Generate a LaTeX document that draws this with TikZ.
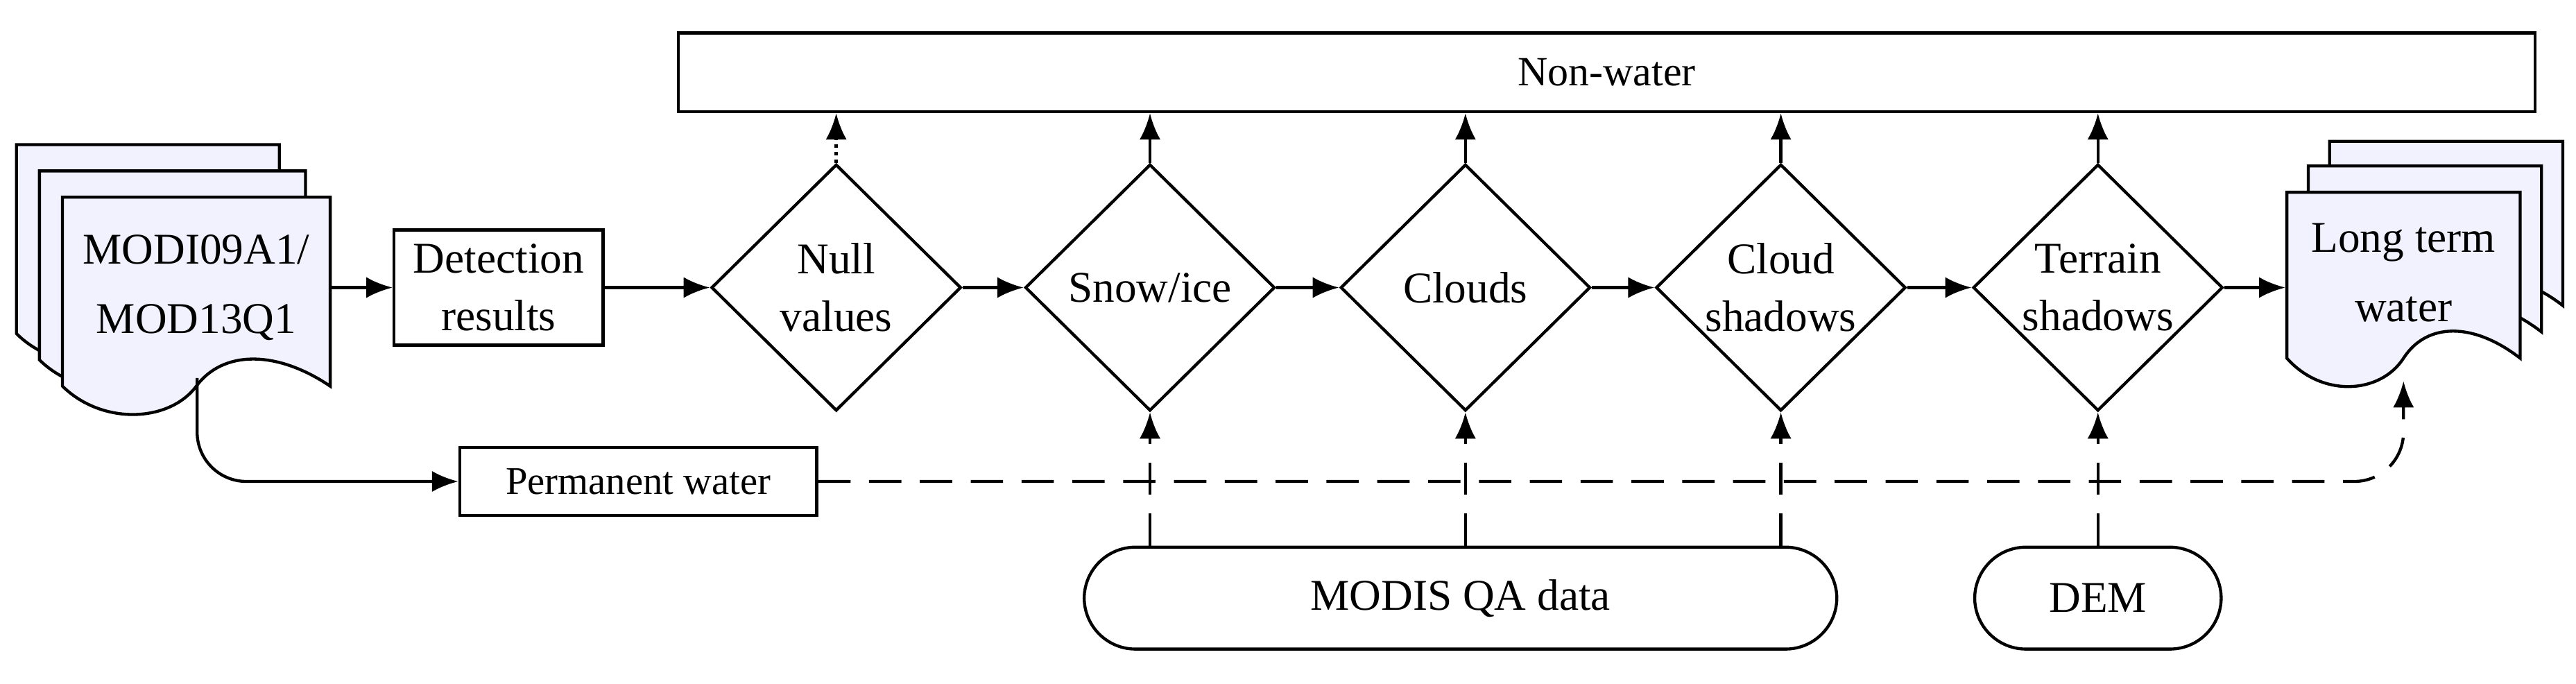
\documentclass[tikz,border=0pt]{standalone}
\usepackage{fontspec}
\setmainfont{Liberation Serif}
\usetikzlibrary{shapes.geometric,arrows.meta}
\begin{document}
\begin{tikzpicture}[x=0.025cm,y=-0.025cm,line width=1.3pt,
  txt/.style={font=\fontsize{19}{25}\selectfont,align=center},
  box/.style={draw,rectangle,inner sep=0pt,txt},
  dia/.style={draw,diamond,aspect=1,inner sep=0pt,minimum width=3.8cm,minimum height=3.75cm,txt},
  term/.style={draw,rectangle,rounded corners=0.78cm,inner sep=0pt,minimum height=1.55cm,txt},
  arr/.style={-{Latex[length=4mm,width=3.2mm]}},
  dsh/.style={dash pattern=on 14pt off 8pt},
  docfill/.style={draw,fill=blue!5,line join=miter}]
\useasboundingbox (0,0) rectangle (1568,416);
% document sheet macro: #1=x1, #2=y1, #3=w, #4=yb
\def\docsheet#1#2#3#4{%
  \draw[docfill] (#1,#2) -- ({#1+#3},#2) -- ({#1+#3},#4)
   .. controls ({#1+0.8*#3},{#4-22}) and ({#1+0.6*#3},{#4-22}) .. ({#1+0.5*#3},{#4})
   .. controls ({#1+0.4*#3},{#4+22}) and ({#1+0.15*#3},{#4+24}) .. (#1,#4) -- cycle;}
% MODI stack
\docsheet{10}{88}{160}{203}
\docsheet{24}{104}{162}{219}
\docsheet{38}{120}{163}{235}
\node[txt,font=\fontsize{19}{30}\selectfont,minimum width=4.07cm,minimum height=2.85cm,inner sep=0pt] (modi) at (119.5,175) {MODI09A1/\\MOD13Q1};
% Long term water stack
\docsheet{1418}{86}{142}{186}
\docsheet{1405}{101}{142}{202}
\docsheet{1392}{117}{142}{218}
\node[txt,font=\fontsize{19}{30}\selectfont,minimum width=3.55cm,minimum height=2.5cm,inner sep=0pt] (ltw) at (1463,166) {Long term\\water};
\coordinate (ltwin) at (1463,232);
% boxes
\node[box,font=\fontsize{18}{25}\selectfont,minimum width=28.25cm,minimum height=1.2cm] (nw) at (978,44) {Non-water};
\node[box,minimum width=3.18cm,minimum height=1.75cm] (det) at (303.5,175) {Detection\\results};
\node[box,font=\fontsize{17}{25}\selectfont,minimum width=5.43cm,minimum height=1.03cm] (perm) at (388.5,293) {Permanent water};
% diamonds
\node[dia] (null) at (509,175) {Null\\values};
\node[dia] (snow) at (700,175) {Snow/ice};
\node[dia] (cloud) at (892,175) {Clouds};
\node[dia] (cshad) at (1084,175) {Cloud\\shadows};
\node[dia] (terr) at (1277,175) {Terrain\\shadows};
% terminals
\node[term,minimum width=11.45cm] (qa) at (889,364) {MODIS QA data};
\node[term,minimum width=3.75cm] (dem) at (1277,364) {DEM};
% main flow
\draw[arr] (modi.east) -- (det.west);
\draw[arr] (det.east) -- (null.west);
\draw[arr] (null.east) -- (snow.west);
\draw[arr] (snow.east) -- (cloud.west);
\draw[arr] (cloud.east) -- (cshad.west);
\draw[arr] (cshad.east) -- (terr.west);
\draw[arr] (terr.east) -- (ltw.west |- terr.east);
% to non-water
\draw[arr,dotted] (null.north) -- (null.north |- nw.south);
\foreach \n in {snow,cloud,cshad,terr}
  \draw[arr] (\n.north) -- (\n.north |- nw.south);
% permanent water
\coordinate (mstart) at (120,230);
\draw[arr,rounded corners=0.75cm] (mstart) |- (perm.west);
\draw[arr,dsh,rounded corners=0.75cm] (perm.east) -| (ltwin);
% QA and DEM
\foreach \n in {snow,cloud,cshad}
  \draw[arr,dsh] (\n.south |- qa.north) -- (\n.south);
\draw[arr,dsh] (dem.north) -- (terr.south);
\end{tikzpicture}
\end{document}
